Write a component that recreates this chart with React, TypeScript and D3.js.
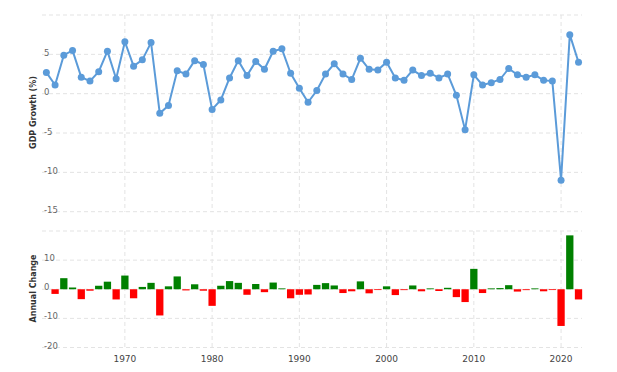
import React from 'react';
import * as d3 from 'd3';

// GDP growth (%) by year
const years = d3.range(1961, 2023);
const growth = [
  2.7, 1.1, 4.9, 5.5, 2.1, 1.6, 2.8, 5.4, 1.9, 6.6,
  3.5, 4.3, 6.5, -2.5, -1.5, 2.9, 2.5, 4.2, 3.7, -2.0,
  -0.8, 2.0, 4.2, 2.3, 4.1, 3.1, 5.4, 5.7, 2.6, 0.7,
  -1.1, 0.4, 2.5, 3.8, 2.5, 1.8, 4.5, 3.1, 3.0, 4.0,
  2.0, 1.7, 3.0, 2.3, 2.6, 2.0, 2.5, -0.2, -4.6, 2.4,
  1.1, 1.4, 1.8, 3.2, 2.4, 2.1, 2.4, 1.7, 1.6, -11.0,
  7.5, 4.0,
];

// annual change (bars), 1962..2022
const changeYears = d3.range(1962, 2023);
const annualChange = [
  -1.6, 3.8, 0.6, -3.4, -0.5, 1.2, 2.6, -3.5, 4.7,
  -3.1, 0.8, 2.2, -9.0, 1.0, 4.4, -0.4, 1.7, -0.5, -5.7,
  1.2, 2.8, 2.2, -1.9, 1.8, -1.0, 2.3, 0.3, -3.1, -1.9,
  -1.8, 1.5, 2.1, 1.3, -1.3, -0.7, 2.7, -1.4, -0.1, 1.0,
  -2.0, -0.3, 1.3, -0.7, 0.3, -0.6, 0.5, -2.7, -4.4, 7.0,
  -1.3, 0.3, 0.4, 1.4, -0.8, -0.3, 0.3, -0.7, -0.1, -12.6,
  18.5, -3.5,
];

const decadeTicks = [1970, 1980, 1990, 2000, 2010, 2020];
const topGrid = [10, 5, 0, -5, -10, -15];
const topLabels = [5, 0, -5, -10, -15];
const bottomGrid = [20, 10, 0, -10, -20];
const bottomLabels = [10, 0, -10, -20];

const W = 617;
const H = 372;
const FONT = "'DejaVu Sans', Verdana, sans-serif";

export default function App() {
  const x = d3.scaleLinear().domain([1960.5, 2022.4]).range([42, 582]);
  const yTop = d3.scaleLinear().domain([-15, 10]).range([211.7, 15]);
  const yBot = d3.scaleLinear().domain([-20, 20]).range([347.5, 231]);

  const line = d3.line<number>()
    .x((d, i) => x(years[i]))
    .y(d => yTop(d));

  const barW = 7.3;
  const gridStyle = { stroke: '#e3e3e3', strokeWidth: 1, strokeDasharray: '4,3' };

  return (
    <svg width={W} height={H} style={{ position: 'absolute', left: 0, top: 0, background: '#fff' }}
      fontFamily={FONT}>
      {/* top panel grid */}
      {topGrid.map(v => (
        <line key={'tg' + v} x1={42} x2={582} y1={yTop(v)} y2={yTop(v)} style={gridStyle} />
      ))}
      {decadeTicks.map(t => (
        <line key={'tv' + t} x1={x(t)} x2={x(t)} y1={15} y2={212} style={gridStyle} />
      ))}
      {topLabels.map(v => (
        <text key={'tl' + v} x={44} y={yTop(v) + 1.5} fontSize={8.5} fill="#666">{v}</text>
      ))}
      <text transform={`translate(36,112.5) rotate(-90)`} textAnchor="middle"
        fontSize={8} fontWeight="bold" fill="#333">GDP Growth (%)</text>

      {/* bottom panel grid */}
      {bottomGrid.map(v => (
        <line key={'bg' + v} x1={42} x2={582} y1={yBot(v)} y2={yBot(v)} style={gridStyle} />
      ))}
      {decadeTicks.map(t => (
        <line key={'bv' + t} x1={x(t)} x2={x(t)} y1={231} y2={350} style={gridStyle} />
      ))}
      {bottomLabels.map(v => (
        <text key={'bl' + v} x={44} y={yBot(v) + 1} fontSize={8.5} fill="#666">{v}</text>
      ))}
      <text transform={`translate(36,288.5) rotate(-90)`} textAnchor="middle"
        fontSize={8} fontWeight="bold" fill="#333">Annual Change</text>

      {/* bars */}
      {annualChange.map((v, i) => {
        const y0 = yBot(0);
        const y1 = yBot(v);
        return (
          <rect key={'b' + i} x={x(changeYears[i]) - barW / 2} width={barW}
            y={Math.min(y0, y1)} height={Math.max(Math.abs(y1 - y0), 0.8)}
            fill={v >= 0 ? '#008000' : '#ff0000'} />
        );
      })}

      {/* line */}
      <path d={line(growth) || ''} fill="none" stroke="#5b9bd9" strokeWidth={2} />
      {growth.map((v, i) => (
        <circle key={'c' + i} cx={x(years[i])} cy={yTop(v)} r={3.5} fill="#5b9bd9" />
      ))}

      {/* x axis labels */}
      {decadeTicks.map(t => (
        <text key={'xl' + t} x={x(t)} y={361.5} textAnchor="middle" fontSize={9} fill="#444">{t}</text>
      ))}
    </svg>
  );
}
